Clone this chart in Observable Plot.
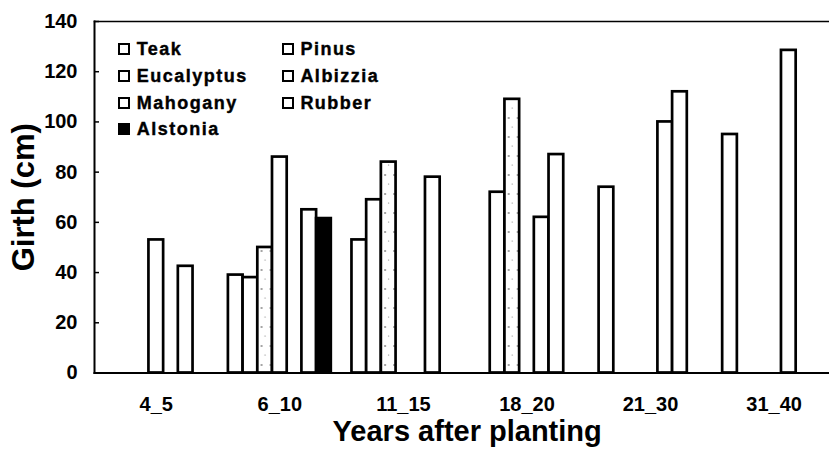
<!DOCTYPE html>
<html>
<head>
<meta charset="utf-8">
<script src="https://cdn.jsdelivr.net/npm/d3@7"></script>
<script src="https://cdn.jsdelivr.net/npm/@observablehq/plot@0.6"></script>
<style>
  html, body { margin: 0; padding: 0; background: #fff; }
  #wrap { position: relative; width: 829px; height: 458px; overflow: hidden; }
  .lg-item { position: absolute; display: flex; align-items: center; height: 20px;
    font: bold 18px "Liberation Sans", Arial, sans-serif; letter-spacing: 1.5px; color: #000;
    -webkit-text-stroke: 0.4px #000; white-space: nowrap; line-height: 20px; }
  .lg-sw { width: 12px; height: 12px; box-sizing: border-box; border: 2px solid #000; margin-right: 6.7px; }
</style>
</head>
<body>
<div id="wrap"></div>
<script>
// Age classes (x categories)
const ages = ["4_5", "6_10", "11_15", "18_20", "21_30", "31_40"];
// Species (series), in chart order
const species = ["Teak", "Pinus", "Eucalyptus", "Albizzia", "Mahogany", "Rubber", "Alstonia"];
// Girth (cm) by age class; null = species absent
const teak       = [null, 39,   53,   null, 74,   95];
const pinus      = [null, 38,   69,   72,   null, null];
const eucalyptus = [null, 50,   84,   109,  null, null];
const albizzia   = [53,   86,   null, null, null, null];
const mahogany   = [null, null, null, 62,   100,  128.5];
const rubber     = [42.5, 65,   78,   87,   112,  null];
const alstonia   = [null, 61.5, null, null, null, null];
const yTicks = [0, 20, 40, 60, 80, 100, 120, 140];

const seriesValues = [teak, pinus, eucalyptus, albizzia, mahogany, rubber, alstonia];
const rows = [];
species.forEach((s, si) => ages.forEach((a, ai) => {
  const v = seriesValues[si][ai];
  if (v != null) rows.push({species: s, age: a, girth: v});
}));

const fills = {Teak: "white", Pinus: "white", Eucalyptus: "url(#stipple)", Albizzia: "white",
               Mahogany: "white", Rubber: "white", Alstonia: "black"};

const chart = Plot.plot({
  width: 829,
  height: 458,
  marginLeft: 94,
  marginRight: -6.4,
  marginTop: 21,
  marginBottom: 85.5,
  style: {fontFamily: "'Liberation Sans', Arial, sans-serif", fontWeight: "bold", fontSize: "20px", background: "white", color: "black", overflow: "hidden"},
  fx: {domain: ages, paddingInner: 0, paddingOuter: 0, round: false, axis: null, label: null},
  x: {domain: species, paddingInner: 0, paddingOuter: 0.7027, round: false, axis: null},
  y: {domain: [0, 140], axis: null},
  color: {domain: species, range: species.map(s => fills[s])},
  marks: [
    Plot.barY(rows, {fx: "age", x: "species", y: "girth", fill: "species", stroke: "black", strokeWidth: 2.7}),
    Plot.frame({facet: "super", anchor: "left", strokeWidth: 2}),
    Plot.frame({facet: "super", anchor: "top", strokeWidth: 1.5}),
    Plot.frame({facet: "super", anchor: "bottom", strokeWidth: 2}),
    Plot.axisY(yTicks, {tickSize: -5, tickFormat: () => "", strokeWidth: 1.5, label: null}),
    Plot.axisY(yTicks, {tickSize: 0, tickPadding: 17, fontSize: 20, fontWeight: "bold",
      fontFamily: "'Liberation Sans Narrow', 'Arial Narrow', 'Liberation Sans', sans-serif", label: null}),
    Plot.axisFx({anchor: "bottom", tickSize: 0, tickPadding: 24, fontSize: 20, fontWeight: "bold", label: null}),
    Plot.text(["Girth (cm)"], {facet: "super", frameAnchor: "left", rotate: -90, dx: -70, fontSize: 31,
      fontWeight: "bold", letterSpacing: 2, lineAnchor: "middle", textAnchor: "middle"}),
    Plot.text(["Years after planting"], {facet: "super", frameAnchor: "bottom", dx: 2, dy: 58.5, fontSize: 29,
      fontWeight: "bold", lineAnchor: "middle", textAnchor: "middle"})
  ]
});

// sparse stipple pattern for Eucalyptus bars
const ns = "http://www.w3.org/2000/svg";
const defs = document.createElementNS(ns, "defs");
defs.innerHTML = '<pattern id="stipple" patternUnits="userSpaceOnUse" width="9" height="19">' +
  '<rect width="9" height="19" fill="white"/>' +
  '<circle cx="3" cy="4" r="0.8" fill="#333"/><circle cx="6.5" cy="13" r="0.6" fill="#777"/></pattern>';
chart.insertBefore(defs, chart.firstChild);

const wrap = document.getElementById("wrap");
wrap.appendChild(chart);

// legend (row-major, two columns) inside the plot area
species.forEach((s, i) => {
  const item = document.createElement("div");
  item.className = "lg-item";
  item.style.left = (118 + (i % 2) * 163.7) + "px";
  item.style.top = (39.1 + Math.floor(i / 2) * 26.7) + "px";
  const sw = document.createElement("span");
  sw.className = "lg-sw";
  sw.style.background = s === "Alstonia" ? "black" : "white";
  item.appendChild(sw);
  item.appendChild(document.createTextNode(s));
  wrap.appendChild(item);
});
</script>
</body>
</html>
